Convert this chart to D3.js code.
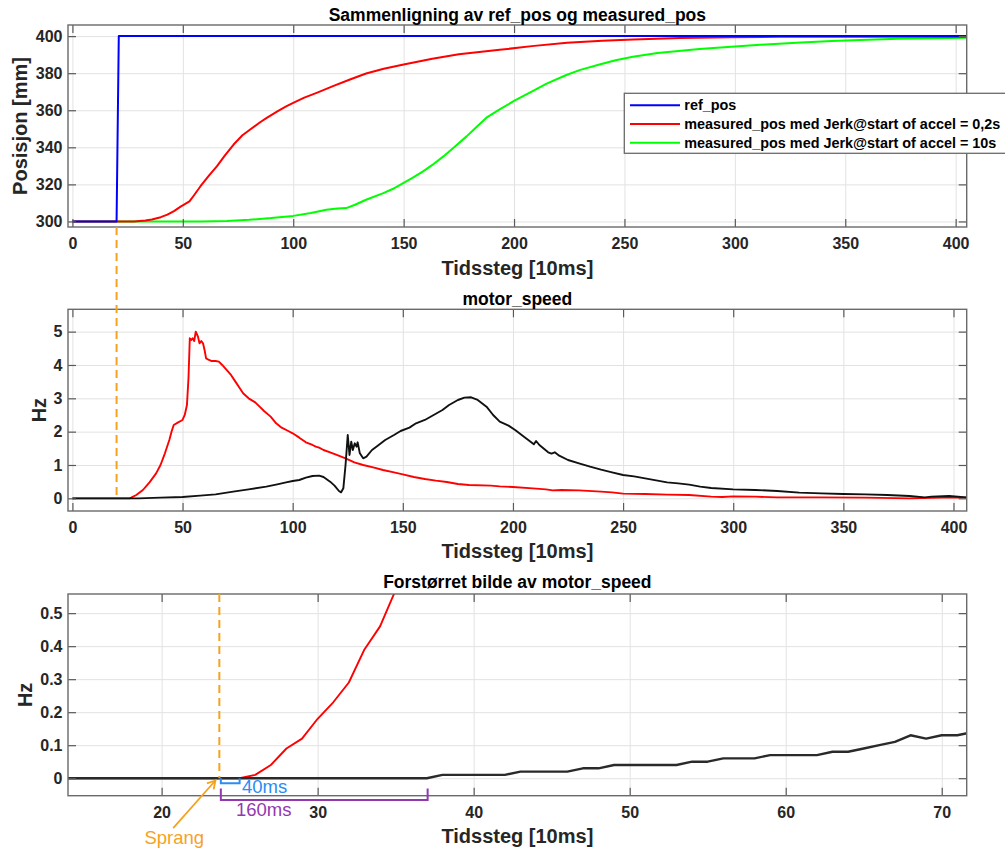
<!DOCTYPE html>
<html><head><meta charset="utf-8">
<script src="https://cdn.jsdelivr.net/npm/d3@7"></script>
<style>
html,body{margin:0;padding:0;background:#fff;}
svg{display:block;font-family:"Liberation Sans",Arial,Helvetica,sans-serif;}
</style></head><body>
<svg id="fig" width="1005" height="851"></svg>
<script>
// ---- Position step response, [time step (10 ms), position mm] ----
const refPos = [[0,300],[20,300],[21,400],[405,400]];
const posJerk02 = [[0,300],[20,300],[28,300],[33,300.5],[36,301],[40,302.3],[43,303.7],[46,305.6],[49,308],[53,310.8],[55,314],[58,319],[62,325],[65.4,329.7],[69,335.5],[73,341.5],[77,346.5],[80.5,349.6],[85,353.5],[88,355.9],[93,359.5],[97,362.2],[100,364],[105,366.8],[110.6,369.4],[118,373],[125.7,376.6],[133,379.8],[141,382.4],[150,384.7],[163,387.8],[175,390.2],[193.5,392.6],[208,394.6],[224,396.4],[240,397.5],[254,398.2],[275,399],[299,399.4],[320,399.6],[344,399.7],[405,399.7]];
const posJerk10 = [[0,300],[30,300],[58,300],[70,300.3],[80,300.9],[90,301.8],[100,303],[108,304.5],[115,306.3],[120,307],[124,307.2],[128,309],[133,311.7],[140.8,315.3],[145,317.5],[149.8,320.7],[154,323.5],[158.8,327],[163,330.5],[168,335.1],[173,340.2],[178.5,345.9],[183,351],[187.5,356],[193.5,360.5],[200,365],[208.6,370.5],[215,374.5],[223.7,379],[230,381.8],[238.7,384.7],[246,387],[253.8,388.9],[265,390.9],[284,393],[300,394.4],[314,395.5],[330,396.5],[344,397.3],[360,398],[374,398.6],[390,398.9],[405,399.1]];
const legendLabels = ["ref_pos","measured_pos med Jerk@start of accel = 0,2s","measured_pos med Jerk@start of accel = 10s"];

// ---- Motor speed, [time step, Hz] ----
const speedJerk02 = [[0,0],[10,0],[20,0],[26,0],[29,0.1],[32,0.25],[35,0.48],[38,0.75],[40,1.0],[42,1.35],[44,1.75],[45,2.0],[46,2.2],[48,2.28],[50,2.35],[51,2.5],[52,2.8],[52.7,3.6],[53.3,4.8],[54,4.75],[54.6,4.8],[55.3,4.72],[56,5.0],[57,4.85],[57.7,4.65],[58.5,4.72],[59.3,4.65],[60,4.45],[60.7,4.2],[62,4.15],[63,4.12],[65,4.12],[66.5,4.1],[68,4.0],[70,3.85],[72,3.7],[74,3.5],[76,3.3],[77.5,3.15],[80,3.0],[83,2.88],[85,2.75],[87,2.62],[90,2.45],[92.5,2.25],[95,2.12],[98,2.02],[100,1.95],[103,1.82],[106,1.68],[109,1.6],[110.5,1.55],[112,1.52],[114,1.45],[117,1.38],[120,1.3],[124,1.2],[128,1.08],[132,1.0],[137,0.92],[141,0.85],[146,0.78],[150,0.72],[155,0.64],[160,0.58],[165,0.53],[170,0.49],[175,0.43],[180,0.4],[190,0.38],[194,0.36],[200,0.34],[209,0.3],[215,0.27],[218,0.24],[222,0.25],[230,0.24],[240,0.2],[245,0.18],[250,0.14],[260,0.13],[270,0.11],[280,0.1],[290,0.05],[295,0.04],[300,0.06],[310,0.05],[320,0.03],[340,0.03],[360,0.02],[380,0.0],[395,0.02],[406,0.02]];
const speedJerk10 = [[0,0],[20,0],[30,0],[40,0.02],[50,0.04],[58,0.08],[65,0.12],[73,0.2],[80,0.27],[88,0.35],[93,0.42],[97,0.48],[100,0.52],[103,0.55],[106,0.62],[109,0.67],[112,0.68],[114,0.64],[117,0.5],[119,0.38],[121,0.22],[122,0.18],[123,0.3],[124,1.0],[125,1.9],[125.8,1.3],[126.6,1.7],[127.3,1.45],[128.2,1.65],[129,1.55],[129.5,1.68],[130.5,1.35],[132,1.2],[133.5,1.25],[136,1.45],[138,1.55],[142,1.75],[146,1.9],[149,2.02],[153,2.12],[156,2.25],[160,2.35],[164,2.5],[168,2.65],[171,2.8],[175,2.95],[178,3.02],[181,3.03],[184,2.95],[188,2.75],[191,2.5],[194,2.3],[198,2.18],[201,2.05],[205,1.85],[208,1.7],[209.5,1.62],[210.5,1.72],[212,1.6],[216,1.38],[217.5,1.34],[219,1.38],[221,1.28],[225,1.15],[230,1.05],[235,0.95],[240,0.86],[245,0.78],[250,0.7],[255,0.66],[260,0.6],[265,0.54],[270,0.48],[275,0.45],[280,0.41],[285,0.35],[290,0.31],[300,0.27],[310,0.25],[320,0.22],[330,0.17],[340,0.15],[350,0.13],[360,0.12],[370,0.1],[380,0.07],[387,0.03],[390,0.05],[398,0.07],[406,0.03]];

// ---- Enlarged start of motor speed, [time step, Hz] ----
const zoomJerk02 = [[14,0],[25,0],[26,0.01],[27,0.04],[28,0.09],[29,0.12],[30,0.18],[31,0.23],[32,0.29],[33,0.39],[34,0.46],[35,0.57],[36,0.68]];
const zoomJerk10 = [[14,0],[37,0],[38,0.01],[42,0.01],[43,0.02],[46,0.02],[47,0.03],[48,0.03],[49,0.04],[53,0.04],[54,0.05],[55,0.05],[56,0.06],[58,0.06],[59,0.07],[62,0.07],[63,0.08],[64,0.08],[65,0.09],[66,0.10],[67,0.11],[68,0.13],[69,0.12],[70,0.13],[71,0.13],[72,0.14]];

// ---- Axis ticks ----
const ticksLong = [0,50,100,150,200,250,300,350,400];
const ticksPos = [300,320,340,360,380,400];
const ticksHz = [0,1,2,3,4,5];
const ticksZoomX = [20,30,40,50,60,70];
const ticksZoomY = [0,0.1,0.2,0.3,0.4,0.5];

// ---- Annotation values ----
const stepTime = 20;          // ref_pos step
const zoomStepTime = 23.7;    // step marker in enlarged view
const delayStart = 25;        // 40 ms
const delayEnd = 37.05;       // 160 ms

const svg = d3.select('#fig');
const L = 68, R = 966.7;
const FONT_TICK = "16px", FONT_LABEL = "20px", FONT_TITLE = "17.5px";

function panel(cfg) {
  const x = d3.scaleLinear().domain(cfg.xDom).range([L, R]);
  const y = d3.scaleLinear().domain(cfg.yDom).range([cfg.bottom, cfg.top]);
  const g = svg.append('g');
  const h = cfg.bottom - cfg.top, w = R - L;

  // grid
  g.append('g').attr('transform', `translate(0,${cfg.bottom})`)
    .call(d3.axisBottom(x).tickValues(cfg.xTicks).tickSize(-h).tickFormat(''))
    .call(s => s.select('.domain').remove())
    .selectAll('line').attr('stroke', '#e2e2e2').attr('stroke-width', 1);
  g.append('g').attr('transform', `translate(${L},0)`)
    .call(d3.axisLeft(y).tickValues(cfg.yTicks).tickSize(-w).tickFormat(''))
    .call(s => s.select('.domain').remove())
    .selectAll('line').attr('stroke', '#e2e2e2').attr('stroke-width', 1);

  const clipId = 'clip' + cfg.id;
  svg.append('defs').append('clipPath').attr('id', clipId)
    .append('rect').attr('x', L).attr('y', cfg.top).attr('width', w).attr('height', h);
  const plot = g.append('g').attr('clip-path', `url(#${clipId})`);
  const line = d3.line().x(d => x(d[0])).y(d => y(d[1]));
  cfg.series.forEach(s => {
    plot.append('path').datum(s.data).attr('d', line)
      .attr('fill', 'none').attr('stroke', s.color).attr('stroke-width', s.width || 2)
      .attr('stroke-linejoin', 'round');
  });

  // ticks on all four sides, pointing inward
  const tk = 8;
  const styleAxis = s => {
    s.select('.domain').remove();
    s.selectAll('line').attr('stroke', '#5a5a5a').attr('stroke-width', 1.2);
    s.selectAll('text').attr('font-size', FONT_TICK).attr('font-weight', 'bold')
      .attr('fill', '#262626').attr('font-family', '"Liberation Sans",Arial,sans-serif');
  };
  g.append('g').attr('transform', `translate(0,${cfg.bottom})`)
    .call(d3.axisBottom(x).tickValues(cfg.xTicks).tickSizeInner(-tk).tickSizeOuter(0).tickPadding(11))
    .call(styleAxis);
  g.append('g').attr('transform', `translate(0,${cfg.top})`)
    .call(d3.axisTop(x).tickValues(cfg.xTicks).tickSizeInner(-tk).tickSizeOuter(0).tickFormat(''))
    .call(styleAxis);
  g.append('g').attr('transform', `translate(${L},0)`)
    .call(d3.axisLeft(y).tickValues(cfg.yTicks).tickSizeInner(-tk).tickSizeOuter(0).tickPadding(5.5).tickFormat(cfg.yFormat))
    .call(styleAxis);
  g.append('g').attr('transform', `translate(${R},0)`)
    .call(d3.axisRight(y).tickValues(cfg.yTicks).tickSizeInner(-tk).tickSizeOuter(0).tickFormat(''))
    .call(styleAxis);

  // box
  g.append('rect').attr('x', L).attr('y', cfg.top).attr('width', w).attr('height', h)
    .attr('fill', 'none').attr('stroke', '#6a6a6a').attr('stroke-width', 1.4);

  // labels
  const cx = (L + R) / 2;
  g.append('text').attr('x', cx).attr('y', cfg.titleY).attr('text-anchor', 'middle')
    .attr('font-size', FONT_TITLE).attr('font-weight', 'bold').attr('fill', '#000').text(cfg.title);
  g.append('text').attr('x', cx).attr('y', cfg.xLabelY).attr('text-anchor', 'middle')
    .attr('font-size', FONT_LABEL).attr('font-weight', 'bold').attr('fill', '#262626').text('Tidssteg [10ms]');
  g.append('text').attr('transform', `translate(${cfg.yLabelX},${(cfg.top + cfg.bottom) / 2}) rotate(-90)`)
    .attr('text-anchor', 'middle').attr('font-size', FONT_LABEL).attr('font-weight', 'bold')
    .attr('fill', '#262626').text(cfg.yLabel);
  return { x, y, g };
}

// Panel 1: position
const p1 = panel({
  id: 1, top: 25, bottom: 227, xDom: [-2, 405], yDom: [297, 406],
  xTicks: ticksLong, yTicks: ticksPos, yFormat: d3.format('d'),
  title: 'Sammenligning av ref_pos og measured_pos', titleY: 21, xLabelY: 274.5,
  yLabel: 'Posisjon [mm]', yLabelX: 27,
  series: [
    { data: posJerk10, color: '#00ff00' },
    { data: posJerk02, color: '#ff0000' },
    { data: refPos, color: '#0000ff' }
  ]
});

// Legend
const lg = svg.append('g');
lg.append('rect').attr('x', 624.3).attr('y', 93.3).attr('width', 400).attr('height', 60)
  .attr('fill', '#fff').attr('stroke', '#6a6a6a').attr('stroke-width', 1.3);
const legendColors = ['#0000ff', '#ff0000', '#00ff00'];
const legendRowY = [105.3, 124, 142.7];
legendLabels.forEach((t, i) => {
  lg.append('line').attr('x1', 630).attr('x2', 680).attr('y1', legendRowY[i]).attr('y2', legendRowY[i])
    .attr('stroke', legendColors[i]).attr('stroke-width', 2);
  lg.append('text').attr('x', 684.3).attr('y', legendRowY[i]).attr('dy', '0.36em')
    .attr('font-size', '14.4px').attr('font-weight', 'bold').attr('fill', '#000').text(t);
});

// Panel 2: motor speed
const p2 = panel({
  id: 2, top: 309.3, bottom: 511, xDom: [-2, 406], yDom: [-0.38, 5.67],
  xTicks: ticksLong, yTicks: ticksHz, yFormat: d3.format('d'),
  title: 'motor_speed', titleY: 305, xLabelY: 557.7,
  yLabel: 'Hz', yLabelX: 45.7,
  series: [
    { data: speedJerk02, color: '#ff0000', width: 1.9 },
    { data: speedJerk10, color: '#111', width: 1.9 }
  ]
});

// Panel 3: enlarged motor speed
const p3 = panel({
  id: 3, top: 594, bottom: 795.7, xDom: [14, 71.6], yDom: [-0.053, 0.558],
  xTicks: ticksZoomX, yTicks: ticksZoomY, yFormat: d => d === 0 ? '0' : d3.format('.1f')(d),
  title: 'Forstørret bilde av motor_speed', titleY: 588.3, xLabelY: 842.7,
  yLabel: 'Hz', yLabelX: 32.3,
  series: [
    { data: zoomJerk02, color: '#ff0000', width: 1.9 },
    { data: zoomJerk10, color: '#2a2a2a', width: 2.4 }
  ]
});

// Step marker through the position and speed panels
const orange = '#f5a31f';
const ann = svg.append('g');
ann.append('line')
  .attr('x1', p1.x(stepTime)).attr('x2', p1.x(stepTime))
  .attr('y1', p1.y(297)).attr('y2', p2.y(0))
  .attr('stroke', orange).attr('stroke-width', 2).attr('stroke-dasharray', '8,5');

// Step marker in the enlarged view
ann.append('line')
  .attr('x1', p3.x(zoomStepTime)).attr('x2', p3.x(zoomStepTime))
  .attr('y1', p3.y(0.558)).attr('y2', p3.y(0))
  .attr('stroke', orange).attr('stroke-width', 2).attr('stroke-dasharray', '8,5');

// 40 ms bracket
const blue = '#2b8cf3';
const bx0 = p3.x(zoomStepTime) + 1.5, bx1 = p3.x(delayStart);
const by0 = p3.y(0), by1 = p3.y(-0.015);
ann.append('path').attr('d', `M${bx0},${by0}V${by1}H${bx1}V${by0}`)
  .attr('fill', 'none').attr('stroke', blue).attr('stroke-width', 2);
ann.append('text').attr('x', p3.x(25.15)).attr('y', p3.y(-0.045))
  .attr('font-size', '18.5px').attr('fill', blue).text('40ms');

// 160 ms bracket
const purple = '#9438b0';
const qx0 = p3.x(zoomStepTime) + 1.5, qx1 = p3.x(delayEnd);
const qy0 = p3.y(-0.031), qy1 = p3.y(-0.066);
ann.append('path').attr('d', `M${qx0},${qy0}V${qy1}H${qx1}V${qy0}`)
  .attr('fill', 'none').attr('stroke', purple).attr('stroke-width', 2);
ann.append('text').attr('x', p3.x(24.76)).attr('y', p3.y(-0.116))
  .attr('font-size', '18.5px').attr('fill', purple).text('160ms');

// "Sprang" arrow
const ax0 = p3.x(20.74), ay0 = p3.y(-0.1515), ax1 = p3.x(23.45), ay1 = p3.y(-0.007);
const ang = Math.atan2(ay1 - ay0, ax1 - ax0), hl = 9, ha = Math.PI / 6;
ann.append('path')
  .attr('d', `M${ax0},${ay0}L${ax1},${ay1}` +
    `M${ax1 - hl * Math.cos(ang - ha)},${ay1 - hl * Math.sin(ang - ha)}L${ax1},${ay1}` +
    `L${ax1 - hl * Math.cos(ang + ha)},${ay1 - hl * Math.sin(ang + ha)}`)
  .attr('fill', 'none').attr('stroke', orange).attr('stroke-width', 1.8);
ann.append('text').attr('x', p3.x(18.9)).attr('y', p3.y(-0.199))
  .attr('font-size', '18.5px').attr('fill', orange).text('Sprang');
</script>
</body></html>
